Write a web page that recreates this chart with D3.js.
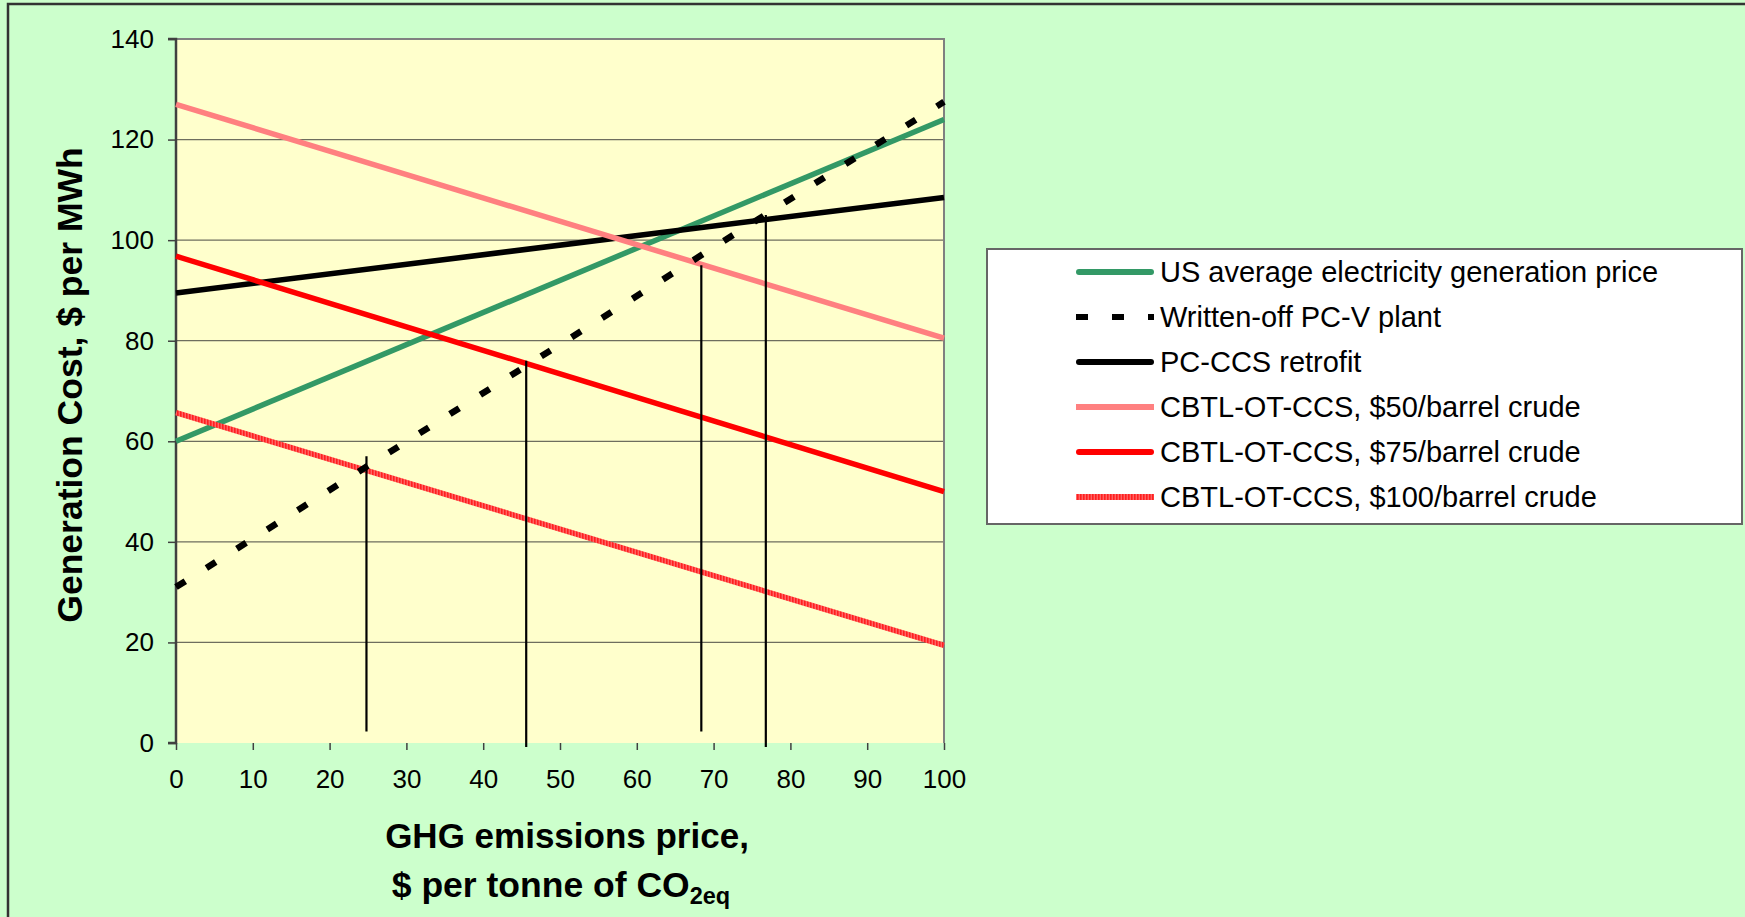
<!DOCTYPE html>
<html>
<head>
<meta charset="utf-8">
<script src="https://cdn.jsdelivr.net/npm/d3@7"></script>
<style>
  html, body { margin: 0; padding: 0; background: #ccffcc; }
  svg { display: block; font-family: "Liberation Sans", Arial, sans-serif; }
</style>
</head>
<body>
<svg id="chart" width="1745" height="917"></svg>
<script>
// ---- data ----
const xValues = [0, 100];
const usAverage = [60, 124];
const writtenOff = [31, 127.5];
const pcCcs = [89.5, 108.5];
const cbtl50 = [127, 80.5];
const cbtl75 = [96.8, 50];
const cbtl100 = [65.7, 19.4];
const seriesNames = [
  "US average electricity generation price",
  "Written-off PC-V plant",
  "PC-CCS retrofit",
  "CBTL-OT-CCS, $50/barrel crude",
  "CBTL-OT-CCS, $75/barrel crude",
  "CBTL-OT-CCS, $100/barrel crude"
];
const dropX = [24.8, 45.6, 68.4, 76.8];
const dropTop = [57, 76, 95, 105];
const dropBottom = [2.3, -0.8, 2.3, -0.8];
const xTicks = [0, 10, 20, 30, 40, 50, 60, 70, 80, 90, 100];
const yTicks = [0, 20, 40, 60, 80, 100, 120, 140];

// ---- layout ----
const svg = d3.select("#chart");
const L = 176, R = 944, T = 39, B = 743;
const x = d3.scaleLinear().domain([0, 100]).range([L, R]);
const y = d3.scaleLinear().domain([0, 140]).range([B, T]);

const defs = svg.append("defs");
const pat = defs.append("pattern").attr("id", "stripe100")
  .attr("patternUnits", "userSpaceOnUse").attr("width", 3).attr("height", 3);
pat.append("rect").attr("width", 3).attr("height", 3).attr("fill", "#ff6464");
pat.append("rect").attr("width", 1.6).attr("height", 3).attr("fill", "#ff2020");

// background
svg.append("rect").attr("width", 1745).attr("height", 917).attr("fill", "#ccffcc");
svg.append("path").attr("d", "M8,917 V4 H1745").attr("fill", "none")
  .attr("stroke", "#333").attr("stroke-width", 2.5);

// plot area
svg.append("rect").attr("x", L).attr("y", T).attr("width", R - L).attr("height", B - T)
  .attr("fill", "#ffffcc");

// gridlines
svg.append("g").selectAll("line").data(yTicks.filter(d => d > 0 && d < 140)).join("line")
  .attr("x1", L).attr("x2", R).attr("y1", d => y(d)).attr("y2", d => y(d))
  .attr("stroke", "#6e6e5e").attr("stroke-width", 1.3);

// top/right border
svg.append("path").attr("d", `M${L},${T} H${R} V${B}`).attr("fill", "none")
  .attr("stroke", "#808080").attr("stroke-width", 2);

// axes
const yAxis = d3.axisLeft(y).tickValues(yTicks).tickSize(8).tickPadding(14);
const gy = svg.append("g").attr("transform", `translate(${L},0)`).call(yAxis);
const xAxis = d3.axisBottom(x).tickValues(xTicks).tickSize(7).tickPadding(20);
const gx = svg.append("g").attr("transform", `translate(0,${B})`).call(xAxis);
[gy, gx].forEach(g => {
  g.select(".domain").attr("stroke", "#404040").attr("stroke-width", 2.5);
  g.selectAll(".tick line").attr("stroke", "#404040").attr("stroke-width", 1.5);
  g.selectAll(".tick text").attr("fill", "#000").attr("font-size", 26)
    .attr("font-family", "'Liberation Sans', Arial, sans-serif");
});
gy.select(".domain").attr("d", `M-8,${B}H0V${T}H-8`);
gx.select(".domain").attr("d", `M${L},${B}H${R}`);

// series
const series = [
  { name: seriesNames[0], vals: usAverage, color: "#339966", dash: null },
  { name: seriesNames[2], vals: pcCcs, color: "#000000", dash: null },
  { name: seriesNames[3], vals: cbtl50, color: "#ff8080", dash: null },
  { name: seriesNames[4], vals: cbtl75, color: "#ff0000", dash: null },
  { name: seriesNames[5], vals: cbtl100, color: "url(#stripe100)", dash: null },
  { name: seriesNames[1], vals: writtenOff, color: "#000000", dash: "11,25" }
];
const line = d3.line().x(d => x(d[0])).y(d => y(d[1]));
svg.append("g").selectAll("path").data(series).join("path")
  .attr("d", s => line(xValues.map((xv, i) => [xv, s.vals[i]])))
  .attr("fill", "none")
  .attr("stroke", s => s.color)
  .attr("stroke-width", s => s.dash ? 6.5 : 5.5)
  .attr("stroke-dasharray", s => s.dash)
  .attr("stroke-linecap", "butt");

// drop lines
svg.append("g").selectAll("line").data(dropX).join("line")
  .attr("x1", d => x(d)).attr("x2", d => x(d))
  .attr("y1", (d, i) => y(dropTop[i])).attr("y2", (d, i) => y(dropBottom[i]))
  .attr("stroke", "#000").attr("stroke-width", 2.2);

// axis titles
svg.append("text")
  .attr("transform", "translate(82,385) rotate(-90)")
  .attr("text-anchor", "middle").attr("font-weight", "bold").attr("font-size", 35.5)
  .text("Generation Cost, $ per MWh");
svg.append("text").attr("x", 567).attr("y", 848)
  .attr("text-anchor", "middle").attr("font-weight", "bold").attr("font-size", 35)
  .text("GHG emissions price,");
const t2 = svg.append("text").attr("x", 561).attr("y", 897)
  .attr("text-anchor", "middle").attr("font-weight", "bold").attr("font-size", 35.5);
t2.append("tspan").text("$ per tonne of CO");
t2.append("tspan").attr("font-size", 23.5).attr("dy", 7).text("2eq");

// legend
const legendOrder = [
  { vals: usAverage, color: "#339966", dash: null, cap: "round" },
  { vals: writtenOff, color: "#000000", dash: "12,24", cap: "butt" },
  { vals: pcCcs, color: "#000000", dash: null, cap: "round" },
  { vals: cbtl50, color: "#ff8080", dash: null, cap: "butt" },
  { vals: cbtl75, color: "#ff0000", dash: null, cap: "round" },
  { vals: cbtl100, color: "url(#stripe100)", dash: null, cap: "butt" }
];
svg.append("rect").attr("x", 987).attr("y", 249).attr("width", 755).attr("height", 275)
  .attr("fill", "#fff").attr("stroke", "#666").attr("stroke-width", 2);
const lg = svg.append("g").selectAll("g").data(legendOrder).join("g")
  .attr("transform", (d, i) => `translate(0,${272 + i * 45})`);
lg.append("line").attr("x1", d => d.cap === "round" ? 1079 : 1076).attr("x2", d => d.cap === "round" ? 1151 : 1154)
  .attr("y1", 0).attr("y2", 0)
  .attr("stroke", d => d.color).attr("stroke-width", 6)
  .attr("stroke-dasharray", d => d.dash).attr("stroke-linecap", d => d.cap);
lg.append("text").attr("x", 1160).attr("y", 10).attr("font-size", 29)
  .text((d, i) => seriesNames[i]);
</script>
</body>
</html>
